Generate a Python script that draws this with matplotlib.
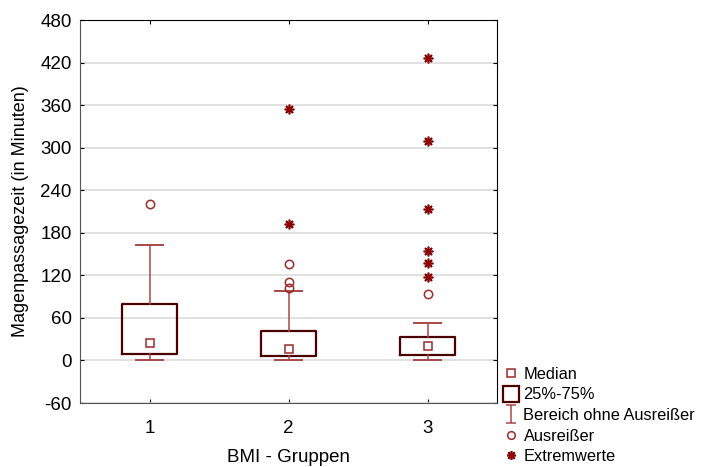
import numpy as np
import matplotlib.pyplot as plt
from matplotlib.path import Path
from matplotlib.lines import Line2D

plt.rcParams['font.family'] = ['Liberation Sans', 'DejaVu Sans']
plt.rcParams['axes.unicode_minus'] = False

groups = [1, 2, 3]
q1 = [9, 7, 8]
median = [25, 16, 20]
q3 = [79, 42, 33]
whis_lo = [0, 0, 0]
whis_hi = [163, 98, 53]
outliers = [[221], [136, 110, 102], [94]]
extremes = [[], [354, 192], [427, 310, 213, 154, 138, 118]]

box_col = '#4a0000'
whis_col = '#a84848'
pt_col = '#9e2a2a'
ext_col = '#8b0000'

fig = plt.figure(figsize=(7.02, 4.67), dpi=100)
ax = fig.add_axes([0.114, 0.137, 0.594, 0.82])

stats = []
for i in range(len(groups)):
    stats.append(dict(med=median[i], q1=q1[i], q3=q3[i], whislo=whis_lo[i],
                      whishi=whis_hi[i], fliers=[]))
ax.bxp(stats, positions=groups, widths=0.4, capwidths=0.2, showfliers=False,
       boxprops=dict(color=box_col, linewidth=1.6),
       whiskerprops=dict(color=whis_col, linewidth=1.1),
       capprops=dict(color=whis_col, linewidth=1.4),
       medianprops=dict(visible=False), zorder=3)

ax.plot(groups, median, 's', ms=6, mfc='white', mec=pt_col, mew=1.1, ls='none', zorder=4)
for g, vals in zip(groups, outliers):
    ax.plot([g] * len(vals), vals, 'o', ms=6, mfc='none', mec=pt_col, mew=1.1, ls='none', zorder=4)
for g, vals in zip(groups, extremes):
    ax.plot([g] * len(vals), vals, marker=(8, 2, 0), ms=7, mec=ext_col, mew=1.2, ls='none', zorder=4)

ax.set_xlim(0.5, 3.5)
ax.set_ylim(-60, 480)
ax.set_xticks(groups)
ax.set_yticks(np.arange(-60, 481, 60))
ax.yaxis.grid(True, color='#d8d8d8', linewidth=1.1)
ax.set_axisbelow(True)
ax.tick_params(direction='in', length=3, labelsize=13.5, top=True, right=True,
               labelcolor='black')
ax.tick_params(axis='x', pad=12)
ax.tick_params(axis='y', pad=6)
for s in ['left', 'bottom']:
    ax.spines[s].set_color('#555555')
for s in ['top', 'right']:
    ax.spines[s].set_color('black')
ax.set_xlabel('BMI - Gruppen', fontsize=13.5, labelpad=9)
ax.set_ylabel('Magenpassagezeit (in Minuten)', fontsize=13, labelpad=8)

# whisker legend symbol
ibeam = Path([(-0.5, -1), (0.5, -1), (0, -1), (0, 1), (-0.5, 1), (0.5, 1)],
             [Path.MOVETO, Path.LINETO, Path.MOVETO, Path.LINETO, Path.MOVETO, Path.LINETO])
handles = [
    Line2D([], [], marker='s', ms=6, mfc='white', mec=pt_col, mew=1.1, ls='none'),
    Line2D([], [], marker='s', ms=12, mfc='white', mec=box_col, mew=1.6, ls='none'),
    Line2D([], [], marker=ibeam, ms=13, mec=whis_col, mew=1.1, ls='none'),
    Line2D([], [], marker='o', ms=5.5, mfc='none', mec=pt_col, mew=1.1, ls='none'),
    Line2D([], [], marker=(8, 2, 0), ms=6.5, mec=ext_col, mew=1.2, ls='none'),
]
labels = ['Median', '25%-75%', 'Bereich ohne Ausreißer', 'Ausreißer', 'Extremwerte']
fig.legend(handles, labels, loc='upper left', bbox_to_anchor=(0.706, 0.232),
           frameon=False, fontsize=11.8, handlelength=0.9, handletextpad=0.3,
           labelspacing=0.34, borderpad=0)

fig.savefig('out.png', dpi=100)
